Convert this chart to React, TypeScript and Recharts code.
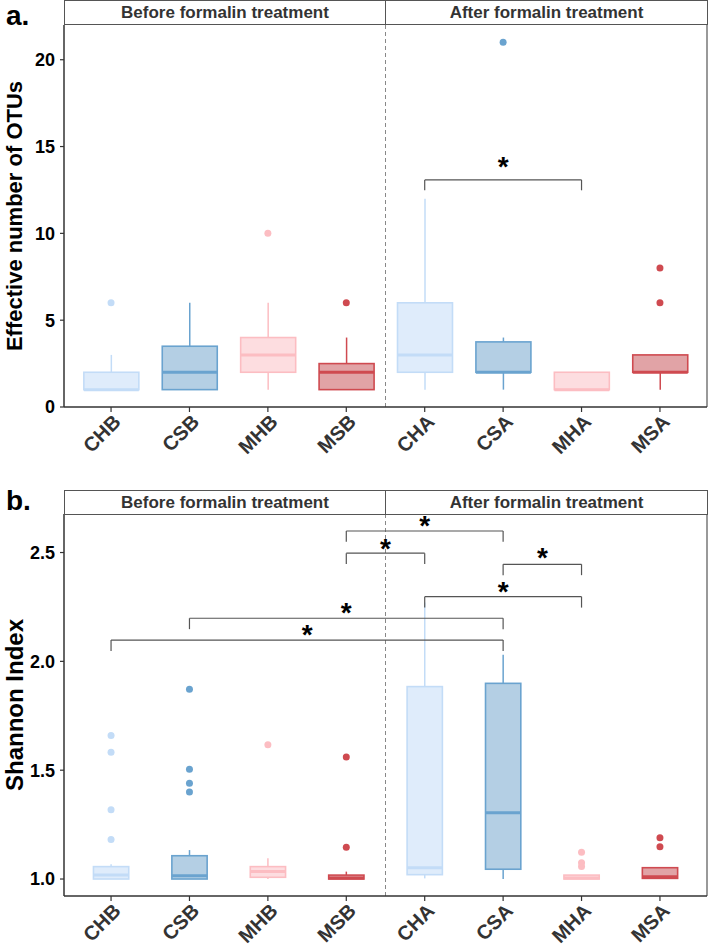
import React from 'react';
import { ComposedChart, Bar, Scatter, XAxis, YAxis, ReferenceLine, Label } from 'recharts';

const GROUPS = ['CHB', 'CSB', 'MHB', 'MSB', 'CHA', 'CSA', 'MHA', 'MSA'];
const GROUP_X = [1, 2, 3, 4, 5, 6, 7, 8];

// panel a - effective number of OTUs
const OTU_WHISKER_LOW = [1, 1, 1, 1, 1, 1, 1, 1];
const OTU_Q1 = [1, 1, 2, 1, 2, 2, 1, 2];
const OTU_MEDIAN = [1, 2, 3, 2, 3, 2, 1, 2];
const OTU_Q3 = [2, 3.5, 4, 2.5, 6, 3.75, 2, 3];
const OTU_WHISKER_HIGH = [3, 6, 6, 4, 12, 4, 2, 3];
const OTU_OUTLIERS = [
  { x: 1, y: 6 },
  { x: 3, y: 10 },
  { x: 4, y: 6 },
  { x: 6, y: 21 },
  { x: 8, y: 6 },
  { x: 8, y: 8 },
];
const OTU_BRACKETS = [{ from: 5, to: 7, y: 13.08, starY: 14.1 }];
const OTU_TICKS = [0, 5, 10, 15, 20];

// panel b - Shannon index
const SH_WHISKER_LOW = [1.0, 1.0, 1.0, 1.0, 1.003, 1.0, 1.0, 1.0];
const SH_Q1 = [1.0, 1.0, 1.008, 1.0, 1.02, 1.045, 1.0, 1.003];
const SH_MEDIAN = [1.018, 1.015, 1.034, 1.005, 1.052, 1.305, 1.005, 1.01];
const SH_Q3 = [1.057, 1.107, 1.057, 1.018, 1.884, 1.899, 1.018, 1.052];
const SH_WHISKER_HIGH = [1.068, 1.133, 1.095, 1.034, 2.27, 2.03, 1.018, 1.052];
const SH_OUTLIERS = [
  { x: 1, y: 1.659 },
  { x: 1, y: 1.582 },
  { x: 1, y: 1.318 },
  { x: 1, y: 1.182 },
  { x: 2, y: 1.872 },
  { x: 2, y: 1.504 },
  { x: 2, y: 1.44 },
  { x: 2, y: 1.4 },
  { x: 3, y: 1.617 },
  { x: 4, y: 1.561 },
  { x: 4, y: 1.146 },
  { x: 7, y: 1.123 },
  { x: 7, y: 1.075 },
  { x: 7, y: 1.057 },
  { x: 8, y: 1.19 },
  { x: 8, y: 1.148 },
];
const SH_BRACKETS = [
  { from: 4, to: 6, y: 2.599, starY: 2.647 },
  { from: 4, to: 5, y: 2.497, starY: 2.54 },
  { from: 6, to: 7, y: 2.446, starY: 2.497 },
  { from: 5, to: 7, y: 2.297, starY: 2.343 },
  { from: 2, to: 6, y: 2.198, starY: 2.244 },
  { from: 1, to: 6, y: 2.098, starY: 2.144 },
];
const SH_TICKS = [1.0, 1.5, 2.0, 2.5];

const COLORS = [
  { stroke: '#c3dcf7', fill: '#dfecfb' }, // CH
  { stroke: '#6aa3cf', fill: '#b4cfe4' }, // CS
  { stroke: '#fcbdc2', fill: '#fddde0' }, // MH
  { stroke: '#cf4a50', fill: '#e1a3a6' }, // MS
];

const FONT = '"Liberation Sans", Arial, sans-serif';

const buildRows = (lo, q1, med, q3, hi) =>
  GROUP_X.map((x, i) => ({ x, range: [lo[i], hi[i]], q1: q1[i], median: med[i], q3: q3[i] }));

const otuRows = buildRows(OTU_WHISKER_LOW, OTU_Q1, OTU_MEDIAN, OTU_Q3, OTU_WHISKER_HIGH);
const shRows = buildRows(SH_WHISKER_LOW, SH_Q1, SH_MEDIAN, SH_Q3, SH_WHISKER_HIGH);

// box + whiskers drawn inside the whisker-range bar that recharts positions
const BoxShape = (props: any) => {
  const { x, y, width, height, payload } = props;
  const [lo, hi] = payload.range;
  const top = Math.min(y, y + height);
  const h = Math.abs(height);
  const py = (v: number) => top + (h * (hi - v)) / (hi - lo);
  const c = COLORS[(payload.x - 1) % 4];
  const cx = x + width / 2;
  return (
    <g>
      <line x1={cx} x2={cx} y1={py(hi)} y2={py(payload.q3)} stroke={c.stroke} strokeWidth={1.5} />
      <line x1={cx} x2={cx} y1={py(payload.q1)} y2={py(lo)} stroke={c.stroke} strokeWidth={1.5} />
      <rect
        x={x}
        y={py(payload.q3)}
        width={width}
        height={py(payload.q1) - py(payload.q3)}
        fill={c.fill}
        stroke={c.stroke}
        strokeWidth={1.6}
      />
      <line x1={x} x2={x + width} y1={py(payload.median)} y2={py(payload.median)} stroke={c.stroke} strokeWidth={3} />
    </g>
  );
};

const OutlierDot = (props: any) => {
  const { cx, cy, payload } = props;
  return <circle cx={cx} cy={cy} r={3.5} fill={COLORS[(payload.x - 1) % 4].stroke} />;
};

const Star = (props: any) => (
  <text x={props.cx} y={props.cy + 14} textAnchor="middle" fontSize={28} fontWeight="bold" fontFamily={FONT} fill="#000">
    *
  </text>
);

const GroupTick = (props: any) => {
  const { x, y, payload } = props;
  const tx = x + 11;
  const ty = y + 9;
  return (
    <text
      x={tx}
      y={ty}
      transform={`rotate(-45 ${tx} ${ty})`}
      textAnchor="end"
      fontSize={20}
      fontWeight="bold"
      fontFamily={FONT}
      fill="#333"
    >
      {GROUPS[payload.value - 1]}
    </text>
  );
};

const YTitle = (props: any) => {
  const { viewBox, text, size } = props;
  const cx = viewBox.x + 14;
  const cy = viewBox.y + viewBox.height / 2;
  return (
    <text
      x={cx}
      y={cy}
      transform={`rotate(-90 ${cx} ${cy})`}
      textAnchor="middle"
      dominantBaseline="central"
      fontSize={size}
      fontWeight="bold"
      fontFamily={FONT}
      fill="#000"
    >
      {text}
    </text>
  );
};

function Panel({ rows, outliers, brackets, domain, ticks, fmt, title, titleSize, tickLen }: any) {
  const stars = brackets.map((b) => ({ x: (b.from + b.to) / 2, y: b.starY }));
  return (
    <ComposedChart width={709} height={458} data={rows} margin={{ top: 25, right: 2, bottom: 0, left: 0 }}>
      <XAxis
        dataKey="x"
        type="number"
        domain={[0.4, 8.6]}
        ticks={GROUP_X}
        interval={0}
        allowDataOverflow
        height={51}
        tick={<GroupTick />}
        tickSize={5}
        tickMargin={2}
        axisLine={{ stroke: '#333', strokeWidth: 1.5 }}
        tickLine={{ stroke: '#333', strokeWidth: 1.2 }}
      />
      <YAxis
        type="number"
        domain={domain}
        ticks={ticks}
        interval={0}
        allowDataOverflow
        width={64}
        tickFormatter={fmt}
        tickSize={4}
        tickMargin={5}
        tick={{ fontSize: 18, fontWeight: 'bold', fill: '#000', fontFamily: FONT }}
        axisLine={{ stroke: '#333', strokeWidth: 1.5 }}
        tickLine={{ stroke: '#333', strokeWidth: 1.2 }}
      >
        <Label content={<YTitle text={title} size={titleSize} />} />
      </YAxis>
      <ReferenceLine x={4.5} stroke="#888" strokeDasharray="4 3" strokeWidth={1} />
      <ReferenceLine x={8.6} stroke="#555" strokeWidth={1.2} />
      <Bar dataKey="range" barSize={55} shape={<BoxShape />} isAnimationActive={false} />
      <Scatter data={outliers} dataKey="y" shape={<OutlierDot />} isAnimationActive={false} />
      {brackets.map((b, i) => (
        <ReferenceLine
          key={`h${i}`}
          segment={[{ x: b.from, y: b.y }, { x: b.to, y: b.y }]}
          stroke="#555"
          strokeWidth={1.2}
          ifOverflow="visible"
        />
      ))}
      {brackets.map((b, i) => (
        <ReferenceLine
          key={`l${i}`}
          segment={[{ x: b.from, y: b.y }, { x: b.from, y: b.y - tickLen }]}
          stroke="#555"
          strokeWidth={1.2}
          ifOverflow="visible"
        />
      ))}
      {brackets.map((b, i) => (
        <ReferenceLine
          key={`r${i}`}
          segment={[{ x: b.to, y: b.y }, { x: b.to, y: b.y - tickLen }]}
          stroke="#555"
          strokeWidth={1.2}
          ifOverflow="visible"
        />
      ))}
      <Scatter data={stars} dataKey="y" shape={<Star />} isAnimationActive={false} />
    </ComposedChart>
  );
}

const Strip = ({ top }: { top: number }) => (
  <div
    style={{
      position: 'absolute',
      left: 64,
      top,
      width: 644,
      height: 25,
      boxSizing: 'border-box',
      border: '1px solid #555',
      background: '#fff',
      display: 'flex',
      fontFamily: FONT,
      fontWeight: 'bold',
      fontSize: 17,
      color: '#333',
    }}
  >
    <div style={{ width: 320, borderRight: '1px solid #555', textAlign: 'center', lineHeight: '23px' }}>
      Before formalin treatment
    </div>
    <div style={{ flex: 1, textAlign: 'center', lineHeight: '23px' }}>After formalin treatment</div>
  </div>
);

const letterStyle: React.CSSProperties = {
  position: 'absolute',
  left: 6,
  fontFamily: FONT,
  fontWeight: 'bold',
  fontSize: 28,
  color: '#000',
  lineHeight: '28px',
};

export default function App() {
  return (
    <div style={{ position: 'absolute', left: 0, top: 0, width: 709, height: 947, background: '#fff' }}>
      <div style={{ position: 'absolute', left: 0, top: 0 }}>
        <Panel
          rows={otuRows}
          outliers={OTU_OUTLIERS}
          brackets={OTU_BRACKETS}
          domain={[0, 22]}
          ticks={OTU_TICKS}
          fmt={(v: number) => String(v)}
          title="Effective number of OTUs"
          titleSize={22}
          tickLen={0.6}
        />
      </div>
      <div style={{ position: 'absolute', left: 0, top: 489 }}>
        <Panel
          rows={shRows}
          outliers={SH_OUTLIERS}
          brackets={SH_BRACKETS}
          domain={[0.922, 2.677]}
          ticks={SH_TICKS}
          fmt={(v: number) => v.toFixed(1)}
          title="Shannon Index"
          titleSize={24}
          tickLen={0.05}
        />
      </div>
      <Strip top={0} />
      <Strip top={490} />
      <div style={{ ...letterStyle, top: 2 }}>a.</div>
      <div style={{ ...letterStyle, top: 487 }}>b.</div>
    </div>
  );
}
